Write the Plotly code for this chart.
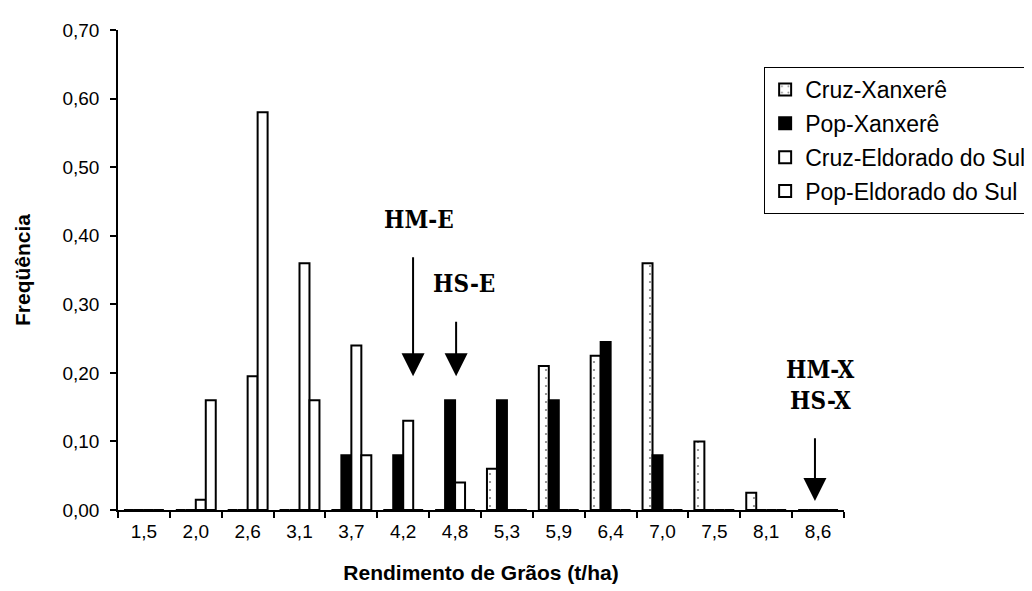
import plotly.graph_objects as go

categories = ["1,5", "2,0", "2,6", "3,1", "3,7", "4,2", "4,8", "5,3", "5,9", "6,4", "7,0", "7,5", "8,1", "8,6"]
cruz_xanxere = [0, 0, 0, 0, 0, 0, 0, 0.06, 0.21, 0.225, 0.36, 0.10, 0.025, 0]
pop_xanxere = [0, 0, 0, 0, 0.08, 0.08, 0.16, 0.16, 0.16, 0.245, 0.08, 0, 0, 0]
cruz_eldorado = [0, 0.015, 0.195, 0.36, 0.24, 0.13, 0.04, 0, 0, 0, 0, 0, 0, 0]
pop_eldorado = [0, 0.16, 0.58, 0.16, 0.08, 0, 0, 0, 0, 0, 0, 0, 0, 0]
y_ticks = [0, 0.1, 0.2, 0.3, 0.4, 0.5, 0.6, 0.7]

FONT = "Liberation Sans, Arial, sans-serif"
DECO = "DejaVu Serif Condensed, DejaVu Serif, serif"

fig = go.Figure()
series = [
    ("Cruz-Xanxerê", cruz_xanxere, dict(color="white", pattern=dict(shape=".", fgcolor="black", bgcolor="white", size=8, solidity=0.06))),
    ("Pop-Xanxerê", pop_xanxere, dict(color="black")),
    ("Cruz-Eldorado do Sul", cruz_eldorado, dict(color="white")),
    ("Pop-Eldorado do Sul", pop_eldorado, dict(color="white")),
]
for i, (name, vals, mk) in enumerate(series):
    mk = dict(mk)
    mk["line"] = dict(color="black", width=2)
    fig.add_trace(go.Bar(x=categories, y=vals, name=name, marker=mk, legendgroup=f"g{i}"))

# arrows (x given as category index)
arrows = [
    # (x, y_tip, y_tail)
    (5.19, 0.195, 0.386),
    (6.02, 0.195, 0.292),
    (12.94, 0.013, 0.122),
]
for x, yt, ya in arrows:
    fig.add_annotation(x=x, y=yt, ax=x, ay=ya, xref="x", yref="y", axref="x", ayref="y",
                       text=" ", showarrow=True, arrowhead=2, arrowsize=2.3, arrowwidth=2,
                       arrowcolor="black", standoff=0, startstandoff=0)

labels = [
    ("HM-E", 5.30, 0.423),
    ("HS-E", 6.17, 0.33),
    ("HM-X", 13.04, 0.205),
    ("HS-X", 13.04, 0.159),
]
for t, x, y in labels:
    fig.add_annotation(x=x, y=y, xref="x", yref="y", text=f"<b>{t}</b>", showarrow=False,
                       font=dict(family=DECO, size=24, color="black"))

fig.update_layout(
    width=1032, height=591,
    margin=dict(l=110, r=196, t=22, b=89, autoexpand=False),
    paper_bgcolor="white", plot_bgcolor="white",
    separators=",.",
    barmode="group", bargap=0.23, bargroupgap=0,
    font=dict(family=FONT, size=19, color="black"),
    showlegend=True,
    legend=dict(x=0.89, y=0.923, xanchor="left", yanchor="top", xref="paper", yref="paper",
                bordercolor="black", borderwidth=1, bgcolor="white",
                font=dict(family=FONT, size=23, color="black"),
                traceorder="grouped", tracegroupgap=1),
    xaxis=dict(
        type="category", showline=True, linecolor="black", linewidth=1.5, automargin=False,
        ticks="outside", tickson="boundaries", ticklen=6, tickcolor="black", tickwidth=1.5,
        showgrid=False, zeroline=False, tickfont=dict(size=19), ticklabelstandoff=3,
        title=dict(text="<b>Rendimento de Grãos (t/ha)</b>", font=dict(size=21), standoff=25),
        range=[-0.5, 13.5],
    ),
    yaxis=dict(
        range=[0, 0.70], tickvals=y_ticks, tickformat=".2f", automargin=False,
        showline=True, linecolor="black", linewidth=1.5,
        ticks="outside", ticklen=6, tickcolor="black", tickwidth=1.5,
        showgrid=False, zeroline=False, tickfont=dict(size=19), ticklabelstandoff=7,
        title=dict(text="<b>Freqüência</b>", font=dict(size=21), standoff=26),
    ),
)

fig.write_html("out.html")
